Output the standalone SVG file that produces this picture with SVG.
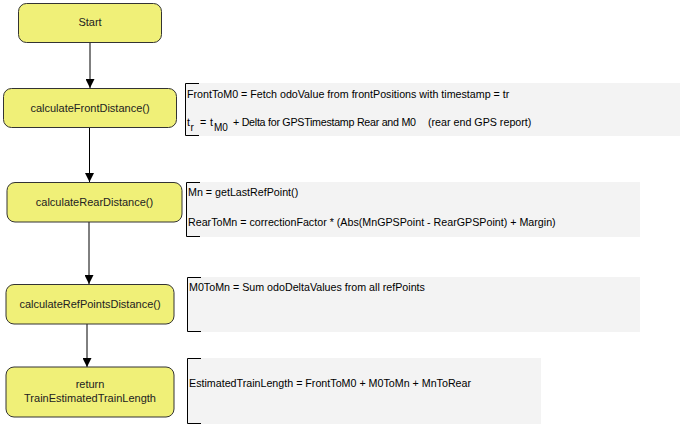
<svg xmlns="http://www.w3.org/2000/svg" width="683" height="428" viewBox="0 0 683 428">
<defs>
<style>
.node rect{fill:#f0f078;stroke:#333;stroke-width:1}
.node text{font-family:"Liberation Sans",Arial,sans-serif;font-size:11px;fill:#222;text-anchor:middle}
.note rect{fill:#f3f3f3;stroke:none}
.note path{fill:none;stroke:#000;stroke-width:1}
.note text{font-family:"Liberation Sans",Arial,sans-serif;font-size:10.7px;fill:#000}
.note .sub{font-size:10px}
.edge{stroke:#000;stroke-width:1;fill:none;marker-end:url(#arr)}
</style>
<marker id="arr" viewBox="0 0 10 10" refX="10" refY="5" markerWidth="10" markerHeight="9" markerUnits="userSpaceOnUse" orient="auto">
<path d="M0,0 L10,5 L0,10 Z" fill="#000"/>
</marker>
</defs>
<rect width="683" height="428" fill="#fff"/>
<g id="connectors">
<line class="edge" x1="90" y1="42" x2="90" y2="88"/>
<line class="edge" x1="89.5" y1="128" x2="89.5" y2="182"/>
<line class="edge" x1="89" y1="222" x2="89" y2="284"/>
<line class="edge" x1="87" y1="324" x2="87" y2="367"/>
</g>
<g id="start" class="node"><rect x="18.5" y="3.5" width="143" height="39" rx="8"/><text x="90" y="26">Start</text></g>
<g id="calculateFrontDistance" class="node"><rect x="3.5" y="88.5" width="173" height="39" rx="8"/><text x="90" y="112">calculateFrontDistance()</text></g>
<g id="calculateRearDistance" class="node"><rect x="7" y="182.5" width="175" height="39.5" rx="8"/><text x="94.5" y="206">calculateRearDistance()</text></g>
<g id="calculateRefPointsDistance" class="node"><rect x="6" y="284.5" width="168" height="39.5" rx="8"/><text x="90" y="308">calculateRefPointsDistance()</text></g>
<g id="returnLength" class="node"><rect x="6" y="367" width="168" height="50" rx="8"/><text x="90" y="388">return</text><text x="90" y="402">TrainEstimatedTrainLength</text></g>
<g id="note1" class="note">
<rect x="185" y="83" width="495" height="53"/>
<path d="M199,83.5 H185.5 V135.5 H199"/>
<text x="187" y="98">FrontToM0 = Fetch odoValue from frontPositions with timestamp = tr</text>
<text y="126"><tspan x="187">t</tspan><tspan class="sub" x="190.5" dy="5">r</tspan><tspan x="200" dy="-5">=</tspan><tspan x="210">t</tspan><tspan class="sub" x="214" dy="5">M0</tspan></text>
<text x="233" y="126" textLength="183" lengthAdjust="spacing">+ Delta for GPSTimestamp Rear and M0</text>
<text x="428" y="126">(rear end GPS report)</text>
</g>
<g id="note2" class="note">
<rect x="186" y="182" width="454" height="55"/>
<path d="M200,182.5 H186.5 V236.5 H200"/>
<text x="188" y="196">Mn = getLastRefPoint()</text>
<text x="188" y="226">RearToMn = correctionFactor * (Abs(MnGPSPoint - RearGPSPoint) + Margin)</text>
</g>
<g id="note3" class="note">
<rect x="187" y="277" width="453" height="55"/>
<path d="M201,277.5 H187.5 V331.5 H201"/>
<text x="189" y="291">M0ToMn = Sum odoDeltaValues from all refPoints</text>
</g>
<g id="note4" class="note">
<rect x="187" y="358" width="354" height="66"/>
<path d="M201,358.5 H187.5 V423.5 H201"/>
<text x="189" y="387">EstimatedTrainLength = FrontToM0 + M0ToMn + MnToRear</text>
</g>
</svg>
